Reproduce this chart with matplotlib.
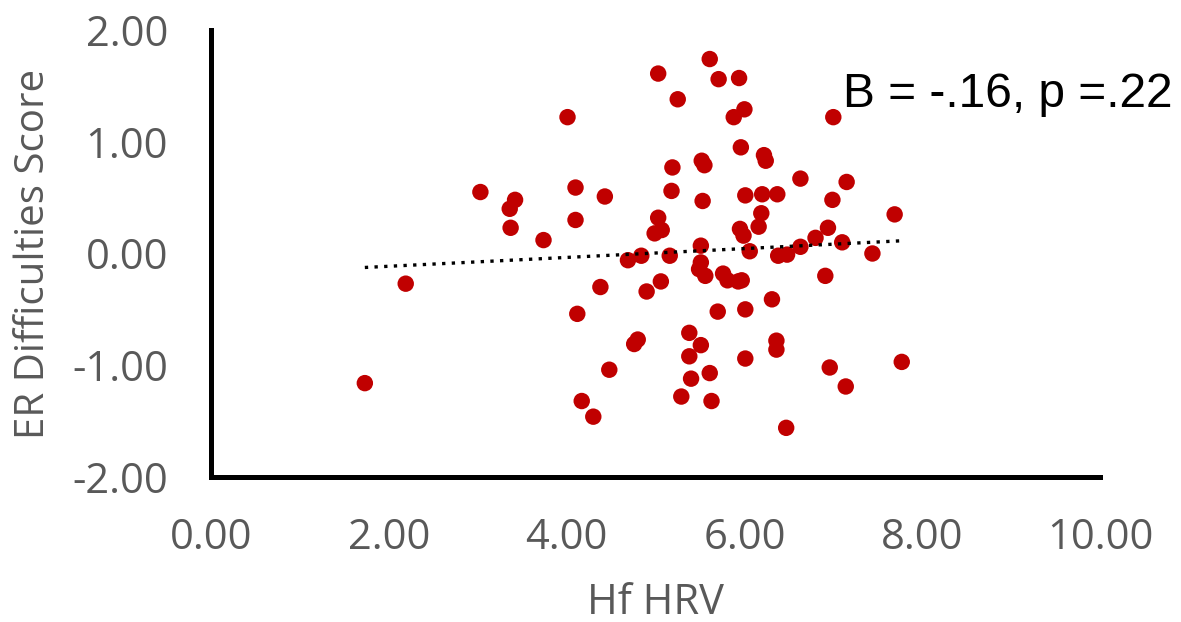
import numpy as np
import matplotlib.pyplot as plt

# values
hf_hrv = [1.73, 2.19, 3.03, 3.42, 3.36, 3.37, 3.74, 4.01, 4.10, 4.43,
          4.10, 4.38, 4.12, 4.17, 4.30, 4.48, 4.69, 4.76, 4.80, 4.84,
          4.90, 5.03, 5.03, 5.07, 4.99, 5.06, 5.16, 5.18, 5.19, 5.25,
          5.29, 5.38, 5.38, 5.40, 5.51, 5.51, 5.49, 5.56, 5.51, 5.52,
          5.55, 5.53, 5.61, 5.61, 5.63, 5.70, 5.71, 5.76, 5.81, 5.88,
          5.93, 5.94, 5.96, 5.97, 5.95, 5.99, 6.00, 6.01, 6.01, 6.01,
          6.06, 6.16, 6.19, 6.20, 6.22, 6.24, 6.31, 6.36, 6.36, 6.37,
          6.38, 6.48, 6.47, 6.63, 6.63, 6.80, 6.91, 6.94, 6.96, 6.99,
          7.00, 7.10, 7.14, 7.15, 7.44, 7.69, 7.77]
er_score = [-1.16, -0.27, 0.55, 0.48, 0.40, 0.23, 0.12, 1.22, 0.59, 0.51,
            0.30, -0.30, -0.54, -1.32, -1.46, -1.04, -0.06, -0.81, -0.77, -0.02,
            -0.34, 1.61, 0.32, 0.21, 0.18, -0.25, -0.02, 0.56, 0.77, 1.38,
            -1.28, -0.71, -0.92, -1.12, 0.07, -0.08, -0.14, -0.20, -0.82, 0.83,
            0.79, 0.47, 1.74, -1.07, -1.32, -0.52, 1.56, -0.18, -0.24, 1.22,
            -0.25, 1.57, 0.95, -0.24, 0.22, 0.16, 1.29, 0.52, -0.50, -0.94,
            0.02, 0.24, 0.36, 0.53, 0.88, 0.83, -0.41, -0.78, -0.86, 0.53,
            -0.02, -0.01, -1.56, 0.06, 0.67, 0.14, -0.20, 0.23, -1.02, 0.48,
            1.22, 0.10, -1.19, 0.64, 0.00, 0.35, -0.97]

x_ticks = [0, 2, 4, 6, 8, 10]
y_ticks = [-2, -1, 0, 1, 2]
stats_text = 'B = -.16, p =.22'

grey = '#595959'
tick_font = 'Open Sans'

fig = plt.figure(figsize=(11.81, 6.22), dpi=100)
ax = fig.add_axes([0.1787, 0.2331, 0.7527, 0.7187])

ax.scatter(hf_hrv, er_score, s=140, color='#C00000', edgecolors='none', zorder=2)

# linear trend line
x = np.array(hf_hrv)
slope, intercept = np.polyfit(x, np.array(er_score), 1)
xs = np.array([x.min(), x.max()])
ax.plot(xs, slope * xs + intercept, color='black', lw=2.4,
        linestyle=(0, (1, 1.9)), zorder=3)

ax.set_xlim(0, 10)
ax.set_ylim(-2, 2)
ax.set_xticks(x_ticks)
ax.set_yticks(y_ticks)
ax.set_xticklabels(['%.2f' % v for v in x_ticks])
ax.set_yticklabels(['%.2f' % v for v in y_ticks])

for s in ['top', 'right']:
    ax.spines[s].set_visible(False)
for s in ['left', 'bottom']:
    ax.spines[s].set_linewidth(3.6)
    ax.spines[s].set_color('black')
    ax.spines[s].set_capstyle('projecting')

ax.tick_params(axis='both', length=0, labelsize=30, labelcolor=grey)
ax.tick_params(axis='y', pad=31)
ax.tick_params(axis='x', pad=29)
for lab in ax.get_xticklabels() + ax.get_yticklabels():
    lab.set_fontfamily(tick_font)

ax.set_xlabel('Hf HRV', fontsize=30, color=grey, family=tick_font, labelpad=16)
ax.set_ylabel('ER Difficulties Score', fontsize=29, color=grey, family=tick_font,
              va='center')
ax.yaxis.set_label_coords(-0.2, 0.5)

ax.text(0.711, 0.828, stats_text, transform=ax.transAxes, fontsize=34.5,
        family='Liberation Sans', color='black', ha='left', va='baseline')

fig.savefig('out.png')
